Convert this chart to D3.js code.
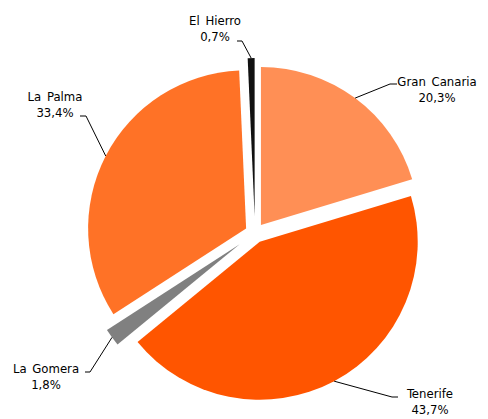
<!DOCTYPE html>
<html>
<head>
<meta charset="utf-8">
<title>Islas</title>
<script src="https://d3js.org/d3.v7.min.js"></script>
<style>
  body { margin: 0; background: #fff; }
  text { font-family: "DejaVu Sans Condensed", "DejaVu Sans", sans-serif; font-size: 13px; fill: #000; }
</style>
</head>
<body>
<div id="chart"></div>
<script>
// data
const islands = ["Gran Canaria", "Tenerife", "La Gomera", "La Palma", "El Hierro"];
const shares = [20.3, 43.7, 1.8, 33.4, 0.7];
const shareLabels = ["20,3%", "43,7%", "1,8%", "33,4%", "0,7%"];

const colors = ["#ff8f55", "#ff5500", "#808080", "#ff7226", "#111111"];
const explode = [10, 10, 19, 10, 17];

// label boxes and leader elbows (Excel-like manual placement)
const labelPos = [
  {x: 437, y: 86,  elbow: [390, 84],  tail: [397, 84]},
  {x: 430, y: 398, elbow: [392, 397], tail: [398, 397]},
  {x: 46,  y: 373, elbow: [90, 372],  tail: [85, 372]},
  {x: 55,  y: 101, elbow: [86, 116],  tail: [80, 116]},
  {x: 215, y: 25,  elbow: [242, 41],  tail: [237, 41]}
];

const w = 488, h = 419;
const cx = 255, cy = 233, r = 158;

const svg = d3.select("#chart").append("svg")
    .attr("width", w).attr("height", h);

const pie = d3.pie().sort(null).value(d => d.v);
const arcs = pie(shares.map((v, i) => ({v: v, i: i})));
const arc = d3.arc().innerRadius(0).outerRadius(r);

const g = svg.append("g").attr("transform", "translate(" + cx + "," + cy + ")");

function offset(d) {
  let a = (d.startAngle + d.endAngle) / 2;
  let e = explode[d.data.i];
  return [Math.sin(a) * e, -Math.cos(a) * e];
}

g.selectAll("path")
  .data(arcs)
  .enter()
  .append("path")
  .attr("d", arc)
  .attr("fill", d => colors[d.data.i])
  .attr("transform", d => "translate(" + offset(d) + ")");

// leader lines
arcs.forEach(function(d) {
  let a = (d.startAngle + d.endAngle) / 2;
  let e = explode[d.data.i];
  let p0 = [cx + Math.sin(a) * (r + e), cy - Math.cos(a) * (r + e)];
  let lp = labelPos[d.data.i];
  svg.append("polyline")
    .attr("points", [p0, lp.elbow, lp.tail].map(p => p.join(",")).join(" "))
    .attr("fill", "none")
    .attr("stroke", "#000")
    .attr("stroke-width", 1);
});

// labels
islands.forEach(function(name, i) {
  let lp = labelPos[i];
  let t = svg.append("text")
    .attr("text-anchor", "middle")
    .attr("x", lp.x).attr("y", lp.y)
    .style("word-spacing", "2px");
  t.append("tspan").attr("x", lp.x).text(name);
  t.append("tspan").attr("x", lp.x).attr("dy", 15.5).text(shareLabels[i]);
});
</script>
</body>
</html>
